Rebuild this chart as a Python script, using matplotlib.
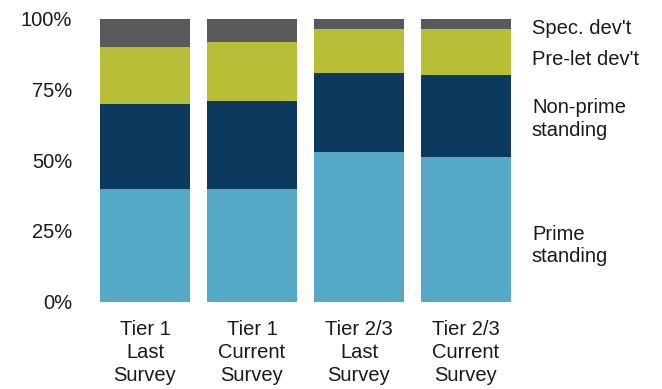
import matplotlib.pyplot as plt
import matplotlib.transforms as mtransforms

plt.rcParams['font.family'] = ['Liberation Sans', 'DejaVu Sans']

categories = ["Tier 1\nLast\nSurvey", "Tier 1\nCurrent\nSurvey",
              "Tier 2/3\nLast\nSurvey", "Tier 2/3\nCurrent\nSurvey"]
prime_standing = [40, 40, 53, 51]
nonprime_standing = [30, 31, 28, 29]
prelet_dev = [20, 21, 15.5, 16.5]
spec_dev = [10, 8, 3.5, 3.5]

series = [
    ("Prime\nstanding", prime_standing, "#56a9c6", 19.8),
    ("Non-prime\nstanding", nonprime_standing, "#0b3a5e", 64.5),
    ("Pre-let dev't", prelet_dev, "#b8bf36", 85.5),
    ("Spec. dev't", spec_dev, "#58595b", 96.8),
]
yticks = [0, 25, 50, 75, 100]
ytick_labels = ["0%", "25%", "50%", "75%", "100%"]

fig = plt.figure(figsize=(6.62, 3.89), dpi=100)
ax = fig.add_axes([0.1382, 0.2249, 0.6465, 0.7263])

x = range(len(categories))
bottom = [0.0] * len(categories)
for name, vals, color, label_y in series:
    ax.bar(x, vals, bottom=bottom, width=0.84, color=color, edgecolor='none')
    bottom = [b + v for b, v in zip(bottom, vals)]

trans = mtransforms.blended_transform_factory(ax.transAxes, ax.transData)
for name, vals, color, label_y in series:
    ax.text(1.029, label_y, name, transform=trans, ha='left', va='center',
            fontsize=14.5, color='#1a1a1a', linespacing=1.25)

ax.set_xlim(-0.5, len(categories) - 0.5)
ax.set_ylim(0, 100)
ax.set_yticks(yticks)
ax.set_yticklabels(ytick_labels, fontsize=14.5, color='#1a1a1a')
ax.set_xticks(list(x))
ax.set_xticklabels(categories, fontsize=14.5, color='#1a1a1a', linespacing=1.27)
ax.tick_params(length=0)
ax.tick_params(axis='x', pad=13)
ax.tick_params(axis='y', pad=14)
for s in ax.spines.values():
    s.set_visible(False)

fig.savefig("out.png", dpi=100)
